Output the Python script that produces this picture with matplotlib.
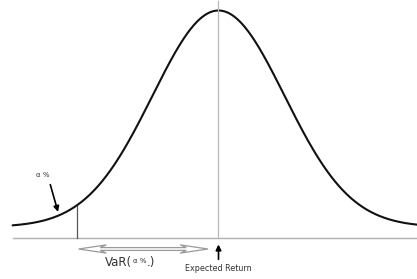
import numpy as np
import matplotlib
matplotlib.use("Agg")
import matplotlib.pyplot as plt
from matplotlib.patches import Polygon

# Concept values (in standard-deviation units)
mean_return = 0.0
sigma = 1.0
var_z = -2.15          # VaR cut-off (alpha % quantile)
x_start, x_end = -3.12, 3.01
labels = {"alpha": "α %", "var": "VaR(", "var_small": "α %", "var_close": ".)",
          "mean": "Expected Return"}

PX = 66.0      # pixels per sigma
CX = 218.5     # pixel of the mean
fig = plt.figure(figsize=(4.17, 2.79), dpi=100)
ax = fig.add_axes([0, 0, 1, 1])
ax.set_xlim(-CX / PX, (417 - CX) / PX)
ax.set_ylim((227 - 279) / 216.5, 227 / 216.5)
ax.axis("off")

x = np.linspace(x_start, x_end, 600)
pdf = lambda v: np.exp(-0.5 * ((v - mean_return) / sigma) ** 2)
ax.plot(x, pdf(x), color="#111111", lw=1.5, solid_capstyle="round")

# baseline (x axis)
base = -0.051
ax.plot([x_start, x_end], [base, base], color="#b0b0b0", lw=1.0)
# center line
ax.plot([mean_return, mean_return], [base, 1.045], color="#b8b8b8", lw=0.9)
# VaR line
ax.plot([var_z, var_z], [base, pdf(var_z)], color="#555555", lw=0.9)

# hollow double arrow
ya = -0.1016
hw, sh = 0.019, 0.0065
L = 0.42
xa0, xa1 = var_z + 0.03, mean_return - 0.16
pts = [(xa0, ya), (xa0 + L, ya + hw), (xa0 + L * 0.78, ya + sh), (xa1 - L * 0.78, ya + sh),
       (xa1 - L, ya + hw), (xa1, ya), (xa1 - L, ya - hw), (xa1 - L * 0.78, ya - sh),
       (xa0 + L * 0.78, ya - sh), (xa0 + L, ya - hw)]
ax.add_patch(Polygon(pts, closed=True, facecolor="white", edgecolor="#9a9a9a", lw=0.9))

# VaR label composed of pieces
fig.canvas.draw()
r = fig.canvas.get_renderer()
t1 = ax.text(-1.72, -0.162, labels["var"], fontsize=8.5, color="#333333", va="center", ha="left")
bb = t1.get_window_extent(r)
x2 = ax.transData.inverted().transform((bb.x1 + 1, 0))[0]
t2 = ax.text(x2, -0.159, labels["var_small"], fontsize=5, color="#333333", va="center", ha="left")
bb2 = t2.get_window_extent(r)
x3 = ax.transData.inverted().transform((bb2.x1 + 0.5, 0))[0]
ax.text(x3, -0.162, labels["var_close"], fontsize=8.5, color="#333333", va="center", ha="left")

# expected return arrow and label
ax.annotate("", xy=(mean_return, -0.068), xytext=(mean_return, -0.162),
            arrowprops=dict(arrowstyle="-|>", color="black", lw=1.2, mutation_scale=8))
ax.text(mean_return, -0.19, labels["mean"], fontsize=5.8, color="#333333", ha="center", va="center")

# alpha label and arrow
ax.text(-2.66, 0.24, labels["alpha"], fontsize=5, color="#333333", ha="center", va="center")
ax.annotate("", xy=(-2.42, pdf(-2.42) + 0.004), xytext=(-2.56, 0.208),
            arrowprops=dict(arrowstyle="-|>", color="black", lw=1.2, mutation_scale=8))

fig.savefig("out.png", dpi=100)
